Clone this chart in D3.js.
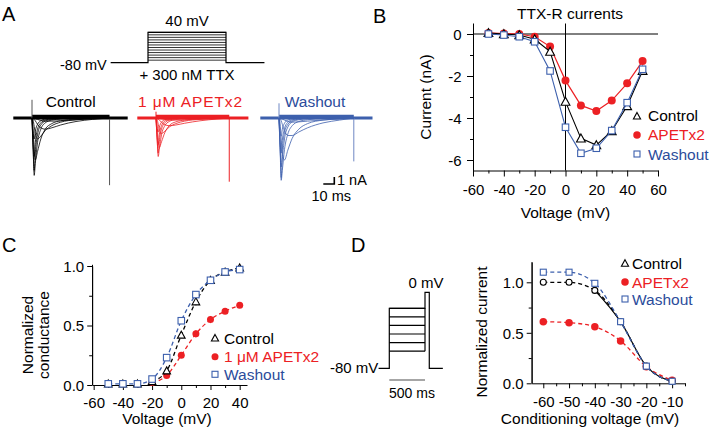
<!DOCTYPE html>
<html><head><meta charset="utf-8">
<script src="https://cdn.jsdelivr.net/npm/d3@7"></script>
<style>
body{margin:0;background:#fff}
svg{display:block}
text{font-family:"Liberation Sans",Arial,Helvetica,sans-serif;}
</style>
</head><body>
<svg id="c" width="709" height="428"></svg>
<script>
// ---------------- DATA ----------------
// Panel B: I-V relationship (nA)
const ivVoltages = [-50,-40,-30,-20,-10,0,10,20,30,40,50];
const ivControl  = [0.05,0.0,-0.05,-0.25,-0.84,-3.22,-4.97,-5.29,-4.62,-3.43,-1.75];
const ivApetx2   = [0.05,0.02,0.0,-0.13,-0.6,-2.22,-3.4,-3.67,-3.17,-2.35,-1.29];
const ivWashout  = [0.0,-0.05,-0.13,-0.37,-1.76,-4.44,-5.68,-5.44,-4.6,-3.27,-1.68];

// Panel C: normalized conductance
const gvVoltages   = [-50,-40,-30,-20,-10,0,10,20,30,40];
const gvControl    = [0.01,0.01,0.01,0.03,0.12,0.42,0.70,0.88,0.95,0.985];
const gvControlErr = [0.01,0.01,0.01,0.01,0.02,0.02,0.03,0.02,0.01,0.01];
const gvApetx2Voltages = [-20,-10,0,10,20,30,40];
const gvApetx2     = [0.02,0.08,0.25,0.43,0.55,0.62,0.67];
const gvApetx2Err  = [0.01,0.01,0.02,0.03,0.03,0.02,0.02];
const gvWashout    = [0.01,0.01,0.01,0.05,0.23,0.54,0.76,0.88,0.95,0.97];
const gvWashoutErr = [0.01,0.01,0.01,0.01,0.02,0.02,0.02,0.02,0.01,0.01];

// Panel D: steady-state inactivation
const inactVoltages = [-60,-50,-40,-30,-20,-10];
const inactControl  = [1.0,1.0,0.92,0.61,0.17,0.02];
const inactApetx2   = [0.61,0.60,0.56,0.42,0.165,0.03];
const inactWashout  = [1.10,1.10,0.99,0.61,0.17,0.02];

// Panel A: current traces (nA) sampled at these times (ms after step onset)
const traceTimes = [0,1,2,3,5,8,12,18,26,40,55];
const tracesControl = [
  [0,0,-0.05,-0.1,-0.2,-0.35,-0.45,-0.45,-0.4,-0.25,-0.1],
  [0,-0.05,-0.2,-0.4,-0.9,-1.4,-1.6,-1.4,-1.0,-0.5,-0.2],
  [0,-0.3,-1.2,-2.2,-3.0,-2.6,-1.8,-1.1,-0.6,-0.25,-0.1],
  [0,-1.5,-4.5,-6.0,-4.8,-3.0,-1.6,-0.8,-0.4,-0.15,-0.05],
  [0,-4.0,-8.2,-6.5,-3.5,-1.6,-0.7,-0.3,-0.15,-0.05,0],
  [0,-4.5,-7.5,-5.0,-2.4,-1.0,-0.45,-0.2,-0.1,0,0],
  [0,-3.8,-5.5,-3.5,-1.6,-0.7,-0.3,-0.1,0,0,0],
  [0,-2.2,-3.0,-1.9,-0.9,-0.4,-0.15,-0.05,0,0,0]
];
const tracesApetx2 = [
  [0,0,-0.03,-0.06,-0.12,-0.2,-0.28,-0.3,-0.25,-0.15,-0.08],
  [0,-0.05,-0.15,-0.3,-0.6,-0.95,-1.1,-1.0,-0.75,-0.4,-0.15],
  [0,-0.2,-0.9,-1.6,-2.2,-1.9,-1.3,-0.8,-0.45,-0.2,-0.08],
  [0,-1.0,-3.2,-4.2,-3.4,-2.1,-1.1,-0.55,-0.3,-0.1,-0.03],
  [0,-2.8,-5.5,-4.5,-2.4,-1.1,-0.5,-0.22,-0.1,-0.03,0],
  [0,-3.0,-5.0,-3.4,-1.6,-0.7,-0.3,-0.12,-0.05,0,0],
  [0,-2.6,-3.8,-2.4,-1.1,-0.45,-0.2,-0.07,0,0,0],
  [0,-1.5,-2.0,-1.3,-0.6,-0.25,-0.1,-0.03,0,0,0]
];
const tracesWashout = [
  [0,0,-0.08,-0.15,-0.3,-0.5,-0.6,-0.55,-0.45,-0.28,-0.14],
  [0,-0.1,-0.4,-0.9,-1.8,-2.5,-2.5,-2.0,-1.4,-0.7,-0.3],
  [0,-0.8,-3.0,-5.0,-6.0,-4.6,-2.9,-1.6,-0.8,-0.3,-0.1],
  [0,-3.5,-8.9,-7.5,-4.5,-2.3,-1.1,-0.5,-0.25,-0.08,0],
  [0,-4.5,-8.5,-6.0,-3.0,-1.3,-0.55,-0.25,-0.1,-0.03,0],
  [0,-4.2,-7.0,-4.5,-2.1,-0.9,-0.4,-0.15,-0.05,0,0],
  [0,-3.4,-5.0,-3.2,-1.5,-0.6,-0.25,-0.08,0,0,0],
  [0,-1.9,-2.6,-1.6,-0.75,-0.3,-0.12,-0.04,0,0,0]
];
const traceNames   = ["Control","1 \u03bcM APETx2","Washout"];
const traceStart   = -17;             // ms
const traceEnd     = [87, 84, 85];    // ms
const stepEnd      = [70.5, 66.6, 68];// ms
const onsetSpike   = [2.6, 0.9, 2.1]; // nA
const offsetSpike  = [-9.6, -9.1, -6.2];
// Voltage protocol A (mV)
const protoLevels = [-70,-60,-50,-40,-30,-20,-10,0,10,20,30,40];
const protoHold = -80, protoDur = 71;  // ms
// Voltage protocol D
const condLevels = [-60,-50,-40,-30,-20,-10];
const condDur = 500, testDur = 60;     // ms

// ---------------- STYLE ----------------
const RED = "#ec2024", BLUE = "#2b4c9b", BLUE_L = "#3d60ad", GREY = "#555";
const svg = d3.select("#c");
const FS = 15;

function txt(x, y, s, opt = {}) {
  const t = svg.append("text").attr("x", x).attr("y", y).text(s)
    .attr("font-size", opt.size || FS).attr("fill", opt.fill || "#000")
    .attr("text-anchor", opt.anchor || "start");
  if (opt.rotate) t.attr("transform", `rotate(-90,${x},${y})`);
  return t;
}

function xAxis(scale, y, major, minor, majLen, minLen, labelBase) {
  svg.append("g").attr("transform", `translate(0,${y})`)
    .call(d3.axisBottom(scale).tickValues(minor).tickSize(minLen).tickFormat("").tickSizeOuter(0));
  const g = svg.append("g").attr("transform", `translate(0,${y})`)
    .call(d3.axisBottom(scale).tickValues(major).tickSize(majLen).tickFormat(d => String(d)).tickSizeOuter(0));
  g.select(".domain").remove();
  g.selectAll("text").attr("y", labelBase).attr("dy", null).attr("font-size", FS)
    .attr("font-family", "Liberation Sans, Arial, sans-serif").attr("fill", "#000");
}
function yAxis(scale, x, major, minor, majLen, minLen, labelRight, fmt) {
  svg.append("g").attr("transform", `translate(${x},0)`)
    .call(d3.axisLeft(scale).tickValues(minor).tickSize(minLen).tickFormat("").tickSizeOuter(0));
  const g = svg.append("g").attr("transform", `translate(${x},0)`)
    .call(d3.axisLeft(scale).tickValues(major).tickSize(majLen).tickFormat(fmt).tickSizeOuter(0));
  g.select(".domain").remove();
  g.selectAll("text").attr("x", -labelRight).attr("dy", "0.35em").attr("font-size", FS)
    .attr("font-family", "Liberation Sans, Arial, sans-serif").attr("fill", "#000");
}

function marker(kind, x, y, color, size) {
  if (kind === "tri") {
    const s = size;
    svg.append("path")
      .attr("d", `M${x},${y - s*0.55}L${x + s*0.55},${y + s*0.45}L${x - s*0.55},${y + s*0.45}Z`)
      .attr("fill", "#fff").attr("stroke", color).attr("stroke-width", 1.1);
  } else if (kind === "circ") {
    svg.append("circle").attr("cx", x).attr("cy", y).attr("r", size/2).attr("fill", color);
  } else if (kind === "ocirc") {
    svg.append("circle").attr("cx", x).attr("cy", y).attr("r", size/2)
      .attr("fill", "#fff").attr("stroke", color).attr("stroke-width", 1.1);
  } else {
    svg.append("rect").attr("x", x - size/2).attr("y", y - size/2).attr("width", size).attr("height", size)
      .attr("fill", "#fff").attr("stroke", color).attr("stroke-width", 1.1);
  }
}

// ---------------- PANEL LETTERS ----------------
txt(2, 21, "A", {size: 20});
txt(373, 23, "B", {size: 20});
txt(2, 252, "C", {size: 20});
txt(351, 252, "D", {size: 20});

// ---------------- PANEL A ----------------
{
  const pOn = 148;
  const px = d3.scaleLinear().domain([0, protoDur]).range([pOn, 226]);
  const py = d3.scaleLinear().domain([protoHold, 40]).range([62.7, 32.3]);
  svg.append("path").attr("fill", "none").attr("stroke", "#000").attr("stroke-width", 1.2)
    .attr("d", d3.line()([[px(-34), py(protoHold)], [px(0), py(protoHold)], [px(0), py(40)], [px(protoDur), py(40)],
      [px(protoDur), py(protoHold)], [px(protoDur + 35), py(protoHold)]]));
  protoLevels.forEach(v => {
    svg.append("line").attr("x1", px(0)).attr("x2", px(protoDur)).attr("y1", py(v)).attr("y2", py(v))
      .attr("stroke", "#000").attr("stroke-width", 0.8);
  });
  txt(187, 26, "40 mV", {anchor: "middle"});
  txt(60, 70, "-80 mV", {size: 14.5});
  txt(187, 80, "+ 300 nM TTX", {anchor: "middle"});

  const onsets = [32, 156, 279];
  const colors = ["#000", RED, BLUE_L];
  const labelCol = ["#000", RED, BLUE];
  const spikeCol = [GREY, RED, "#6f88c4"];
  const sets = [tracesControl, tracesApetx2, tracesWashout];
  const yA = d3.scaleLinear().domain([0, -1]).range([118, 125]);
  const labelX = [70.7, 190, 315];
  sets.forEach((set, i) => {
    const xA = d3.scaleLinear().domain([0, 10]).range([onsets[i], onsets[i] + 11]);
    svg.append("line").attr("x1", xA(traceStart)).attr("x2", xA(traceEnd[i]))
      .attr("y1", yA(0)).attr("y2", yA(0)).attr("stroke", colors[i]).attr("stroke-width", 3);
    svg.append("line").attr("x1", xA(0)).attr("x2", xA(stepEnd[i]))
      .attr("y1", yA(0.3)).attr("y2", yA(0.3)).attr("stroke", colors[i]).attr("stroke-width", 2.5);
    svg.append("line").attr("x1", xA(0)).attr("x2", xA(0)).attr("y1", yA(0)).attr("y2", yA(onsetSpike[i]))
      .attr("stroke", spikeCol[i]).attr("stroke-width", 1);
    svg.append("line").attr("x1", xA(stepEnd[i])).attr("x2", xA(stepEnd[i])).attr("y1", yA(0)).attr("y2", yA(offsetSpike[i]))
      .attr("stroke", spikeCol[i]).attr("stroke-width", 1);
    const line = d3.line().x(d => xA(d[0])).y(d => yA(d[1])).curve(d3.curveMonotoneX);
    set.forEach(sw => {
      const pts = traceTimes.map((t, k) => [t, sw[k]]);
      pts.push([stepEnd[i], 0]);
      svg.append("path").attr("d", line(pts)).attr("fill", "none")
        .attr("stroke", colors[i]).attr("stroke-width", 0.8);
    });
    const t = txt(labelX[i], 106.5, traceNames[i], {anchor: "middle", fill: labelCol[i], size: 15.5});
    if (i === 1) t.attr("textLength", 104).attr("lengthAdjust", "spacing");
  });
  const xS = d3.scaleLinear().domain([0, 10]).range([323.3, 334.3]);
  const yS = d3.scaleLinear().domain([0, 1]).range([184, 177]);
  svg.append("path").attr("fill", "none").attr("stroke", "#000").attr("stroke-width", 1.6)
    .attr("d", d3.line()([[xS(0), yS(0)], [xS(10), yS(0)], [xS(10), yS(1)]]));
  txt(337, 185, "1 nA", {size: 14.5});
  txt(311.5, 201, "10 ms", {size: 14.5});
}

// ---------------- PANEL B ----------------
{
  const x = d3.scaleLinear().domain([-60, 60]).range([473, 658]);
  const y = d3.scaleLinear().domain([-6.5, 0.5]).range([170.5, 23.5]);
  svg.append("line").attr("x1", x(-60)).attr("x2", x(60)).attr("y1", y(0)).attr("y2", y(0)).attr("stroke", "#000");
  svg.append("line").attr("x1", x(0)).attr("x2", x(0)).attr("y1", y(0.5)).attr("y2", y(-6.5)).attr("stroke", "#000");
  xAxis(x, 170.5, d3.range(-60, 61, 20), d3.range(-50, 51, 20), 6, 3, 24.5);
  svg.append("line").attr("x1", 473.5).attr("x2", 473.5).attr("y1", y(0.5)).attr("y2", y(-6.5)).attr("stroke", "#000");
  yAxis(y, 473, [-6, -4, -2, 0], [-5, -3, -1], 6, 3, 11.5, d => String(d));

  const line = d3.line().x((d, i) => x(ivVoltages[i])).y(d => y(d));
  svg.append("path").attr("d", line(ivApetx2)).attr("fill", "none").attr("stroke", RED).attr("stroke-width", 1.2);
  ivApetx2.forEach((v, i) => marker("circ", x(ivVoltages[i]), y(v), RED, 8));
  svg.append("path").attr("d", line(ivControl)).attr("fill", "none").attr("stroke", "#000").attr("stroke-width", 1.1);
  ivControl.forEach((v, i) => marker("tri", x(ivVoltages[i]), y(v), "#000", 8));
  svg.append("path").attr("d", line(ivWashout)).attr("fill", "none").attr("stroke", BLUE_L).attr("stroke-width", 1.1);
  ivWashout.forEach((v, i) => marker("sq", x(ivVoltages[i]), y(v), BLUE_L, 6.5));

  txt(570, 19, "TTX-R currents", {anchor: "middle", size: 15.5});
  txt(431, 97, "Current (nA)", {anchor: "middle", rotate: true, size: 15.5});
  txt(565.5, 218, "Voltage (mV)", {anchor: "middle", size: 15.5});
  marker("tri", 637, 116, "#000", 6.5);
  txt(648, 121, "Control", {size: 15.5});
  marker("circ", 637, 135, RED, 7.5);
  txt(648, 140, "APETx2", {size: 15.5, fill: RED});
  marker("sq", 637, 154, BLUE_L, 6);
  txt(648, 159.5, "Washout", {size: 15.5, fill: BLUE});
}

// ---------------- PANEL C ----------------
{
  const x = d3.scaleLinear().domain([-61, 45]).range([92.2, 247]);
  const y = d3.scaleLinear().domain([0, 1]).range([385, 266]);
  xAxis(x, 385, d3.range(-60, 41, 20), d3.range(-50, 41, 20), 5, 3, 22.5);
  svg.append("line").attr("x1", 92.5).attr("x2", 92.5).attr("y1", y(1.01)).attr("y2", y(0)).attr("stroke", "#000");
  yAxis(y, 92.2, [0, 0.5, 1.0], [0.25, 0.75], 5, 3, 8, d3.format(".1f"));

  const fit = (xs) => d3.line().x((d, i) => x(xs[i])).y(d => y(d)).curve(d3.curveMonotoneX);
  const drawSet = (xs, ys, errs, col, kind, size, fromIdx) => {
    svg.append("path").attr("d", fit(xs.slice(fromIdx))(ys.slice(fromIdx))).attr("fill", "none")
      .attr("stroke", col).attr("stroke-width", 1.3).attr("stroke-dasharray", "4,3");
    ys.forEach((v, i) => {
      svg.append("line").attr("x1", x(xs[i])).attr("x2", x(xs[i])).attr("y1", y(v - errs[i])).attr("y2", y(v + errs[i]))
        .attr("stroke", col).attr("stroke-width", 1);
      marker(kind, x(xs[i]), y(v), col, size);
    });
  };
  drawSet(gvApetx2Voltages, gvApetx2, gvApetx2Err, RED, "circ", 7, 0);
  drawSet(gvVoltages, gvControl, gvControlErr, "#000", "tri", 7, 3);
  drawSet(gvVoltages, gvWashout, gvWashoutErr, BLUE_L, "sq", 6.5, 0);

  txt(33, 335, "Normalized", {anchor: "middle", rotate: true, size: 15.5});
  txt(48.5, 335, "conductance", {anchor: "middle", rotate: true, size: 15.5});
  txt(167, 424, "Voltage (mV)", {anchor: "middle", size: 15.5});
  marker("tri", 215, 338, "#000", 6.5);
  txt(224, 343.5, "Control", {size: 15.5});
  marker("circ", 215, 356.7, RED, 7);
  txt(224, 362, "1 \u03bcM APETx2", {size: 15.5, fill: RED});
  marker("sq", 215, 374.3, BLUE_L, 6);
  txt(224, 380, "Washout", {size: 15.5, fill: BLUE});
}

// ---------------- PANEL D ----------------
{
  const px = d3.scaleLinear().domain([0, condDur]).range([389.3, 425]);
  const py = d3.scaleLinear().domain([-80, -10, 0]).range([368.3, 308.3, 292.3]);
  svg.append("path").attr("fill", "none").attr("stroke", "#000").attr("stroke-width", 1.2)
    .attr("d", d3.line()([[px(-150), py(-80)], [px(0), py(-80)], [px(0), py(-10)], [px(condDur), py(-10)],
      [px(condDur), py(0)], [px(condDur + testDur), py(0)], [px(condDur + testDur), py(-80)], [px(condDur + 250), py(-80)]]));
  condLevels.forEach(v => {
    svg.append("line").attr("x1", px(0)).attr("x2", px(condDur)).attr("y1", py(v)).attr("y2", py(v))
      .attr("stroke", "#000").attr("stroke-width", 1.2);
  });
  svg.append("line").attr("x1", px(condDur)).attr("x2", px(condDur)).attr("y1", py(-10)).attr("y2", py(-60))
    .attr("stroke", "#000").attr("stroke-width", 1.2);
  svg.append("line").attr("x1", px(0)).attr("x2", px(500)).attr("y1", 380).attr("y2", 380)
    .attr("stroke", "#888").attr("stroke-width", 1.5);
  txt(426, 288, "0 mV", {anchor: "middle"});
  txt(330, 373, "-80 mV");
  txt(412, 398, "500 ms", {anchor: "middle", size: 14});

  const x = d3.scaleLinear().domain([-64.5, -5]).range([531.7, 685]);
  const y = d3.scaleLinear().domain([0, 1.2]).range([383.3, 262.1]);
  xAxis(x, 383.3, d3.range(-60, -9, 10), d3.range(-55, -4, 10), 5, 3, 24.2);
  svg.append("line").attr("x1", 532).attr("x2", 532).attr("y1", y(1.2)).attr("y2", y(0)).attr("stroke", "#000");
  yAxis(y, 531.7, [0, 0.5, 1.0], [0.25, 0.75], 5, 3, 8, d3.format(".1f"));

  const fit = d3.line().x((d, i) => x(inactVoltages[i])).y(d => y(d)).curve(d3.curveMonotoneX);
  svg.append("path").attr("d", fit(inactApetx2)).attr("fill", "none").attr("stroke", RED)
    .attr("stroke-width", 1.3).attr("stroke-dasharray", "4,3");
  inactApetx2.forEach((v, i) => marker("circ", x(inactVoltages[i]), y(v), RED, 7.5));
  svg.append("path").attr("d", fit(inactControl)).attr("fill", "none").attr("stroke", "#000")
    .attr("stroke-width", 1.3).attr("stroke-dasharray", "4,3");
  const solid = d3.line().x(d => x(d[0])).y(d => y(d[1])).curve(d3.curveMonotoneX);
  svg.append("path").attr("d", solid(inactVoltages.map((v, i) => [v, inactControl[i]]).filter(d => d[0] >= -40)))
    .attr("fill", "none").attr("stroke", "#000").attr("stroke-width", 1.2);
  inactControl.forEach((v, i) => marker("ocirc", x(inactVoltages[i]), y(v), "#000", 6));
  svg.append("path").attr("d", fit(inactWashout)).attr("fill", "none").attr("stroke", BLUE_L)
    .attr("stroke-width", 1.3).attr("stroke-dasharray", "4,3");
  inactWashout.forEach((v, i) => marker("sq", x(inactVoltages[i]), y(v), BLUE_L, 6));

  txt(487, 332, "Normalized current", {anchor: "middle", rotate: true, size: 15.5});
  txt(590, 423.5, "Conditioning voltage (mV)", {anchor: "middle", size: 15.5});
  marker("tri", 625, 263.3, "#000", 6.5);
  txt(632, 269, "Control", {size: 15.5});
  marker("circ", 625, 282, RED, 7.5);
  txt(632, 287.5, "APETx2", {size: 15.5, fill: RED});
  marker("sq", 625, 299, BLUE_L, 6);
  txt(632, 304.5, "Washout", {size: 15.5, fill: BLUE});
}
svg.selectAll("g .domain, g .tick line").attr("stroke", "#000");
</script>
</body></html>
